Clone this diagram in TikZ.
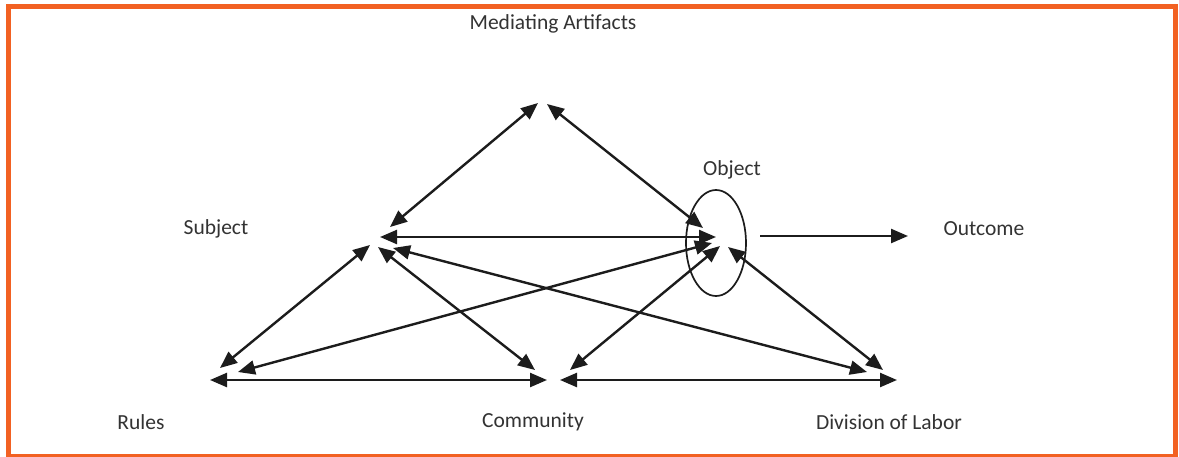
\documentclass[tikz,border=0pt]{standalone}
\usepackage{fontspec}
\setmainfont{Carlito}
\usetikzlibrary{arrows.meta,shapes.geometric}

\definecolor{framecol}{HTML}{F26122}
\definecolor{inkcol}{HTML}{1C1C1C}
\definecolor{labelcol}{HTML}{333333}

\begin{document}
\begin{tikzpicture}[x=1pt,y=-1pt,
      every node/.style={font=\fontsize{21.5}{25}\selectfont,text=labelcol},
      tip/.tip={Triangle[length=17pt,width=14pt]},
      link/.style={draw=inkcol,line width=2.4pt,tip-tip},
      oneway/.style={draw=inkcol,line width=2.4pt,-tip},
      ring/.style={draw=inkcol,ellipse,line width=1.7pt,minimum width=60pt,minimum height=106pt,inner sep=0pt}]
    \useasboundingbox (0,0) rectangle (1179,456);
    \fill[white] (0,0) rectangle (1179,456);
    \draw[framecol,line width=5pt] (8.5,6.5) rectangle (1175.5,456.5);

    % labels
    \node (med) at (553,24) {Mediating Artifacts};
    \node (subj) at (216,229) {Subject};
    \node (obj) at (732,170) {Object};
    \node (outc) at (984,229) {Outcome};
    \node (rules) at (141,422) {Rules};
    \node (comm) at (533,422) {Community};
    \node (div) at (889,422) {Division of Labor};
    \node[ring] (objring) at (716,243) {};

    % end points round each corner
    \coordinate (a1) at (538,103);
    \coordinate (a2) at (547,104);
    \coordinate (s1) at (390,227);
    \coordinate (s2) at (380,237);
    \coordinate (s3) at (370,245);
    \coordinate (s4) at (378,247);
    \coordinate (s5) at (393,248);
    \coordinate (o1) at (703,228);
    \coordinate (o2) at (716,237);
    \coordinate (o3) at (712,243);
    \coordinate (o4) at (720,246);
    \coordinate (o5) at (728,247);
    \coordinate (r1) at (220,368);
    \coordinate (r2) at (238,372);
    \coordinate (r3) at (210,380);
    \coordinate (c1) at (547,380);
    \coordinate (c2) at (535,370);
    \coordinate (c3) at (570,370);
    \coordinate (c4) at (560,380);
    \coordinate (d1) at (897,380);
    \coordinate (d2) at (867,372);
    \coordinate (d3) at (883,370);
    \coordinate (u1) at (760,236);
    \coordinate (u2) at (908,236);

    % connectors
    \draw[link] (a1) -- (s1);
    \draw[link] (a2) -- (o1);
    \draw[link] (s2) -- (o2);
    \draw[link] (s3) -- (r1);
    \draw[link] (s4) -- (c2);
    \draw[link] (s5) -- (d2);
    \draw[link] (r2) -- (o3);
    \draw[link] (c3) -- (o4);
    \draw[link] (d3) -- (o5);
    \draw[link] (r3) -- (c1);
    \draw[link] (c4) -- (d1);
    \draw[oneway] (u1) -- (u2);
  \end{tikzpicture}
\end{document}
